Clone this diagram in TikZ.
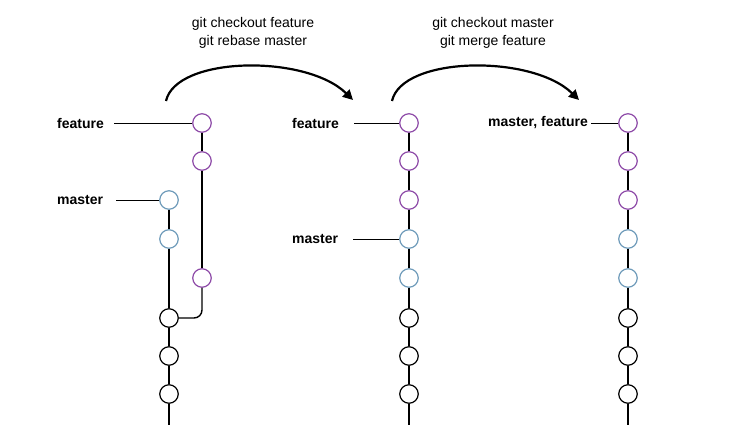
\documentclass[tikz,border=0pt]{standalone}
\usepackage{fontspec}
\setmainfont{Liberation Sans}
\usetikzlibrary{arrows.meta}
\definecolor{featc}{HTML}{8E4BA8}
\definecolor{mastc}{HTML}{6F9BBA}
\begin{document}
\begin{tikzpicture}[x=1pt,y=-1pt,
 commit/.style={circle,draw,fill=white,minimum size=18.5pt,inner sep=0pt,line width=1.2pt},
 feat/.style={commit,draw=featc},
 mast/.style={commit,draw=mastc},
 base/.style={commit,draw=black},
 lbl/.style={font=\fontsize{14}{16}\selectfont\bfseries,anchor=west,inner sep=0pt},
 cmd/.style={font=\fontsize{14}{18}\selectfont,align=center},
 trunk/.style={line width=1.4pt},
 ptr/.style={line width=0.8pt},
 move/.style={line width=2.2pt,-{Triangle[length=10pt,width=10pt]}}
]
\useasboundingbox (0,0) rectangle (740,444);
% ---------- column 1 ----------
\node[feat] (a1) at (202,123) {};
\node[feat] (a2) at (202,161) {};
\node[mast] (a3) at (169,200) {};
\node[mast] (a4) at (169,239) {};
\node[feat] (a5) at (202,278) {};
\node[base] (a6) at (169,318) {};
\node[base] (a7) at (169,356) {};
\node[base] (a8) at (169,394) {};
\coordinate (a9) at (169,425);
\draw[trunk] (a1) -- (a2) -- (a5);
\draw[trunk] (a3) -- (a4) -- (a6) -- (a7) -- (a8) -- (a9);
\draw[trunk,rounded corners=8pt] (a6.east) -| (a5.south);
\node[lbl] (fa) at (57,123) {feature};
\node[lbl] (ma) at (57,200) {master};
\draw[ptr] ([xshift=10pt]fa.east |- a1) -- (a1);
\draw[ptr] ([xshift=13pt]ma.east |- a3) -- (a3);
% ---------- column 2 ----------
\node[feat] (b1) at (409,123) {};
\node[feat] (b2) at (409,161) {};
\node[feat] (b3) at (409,200) {};
\node[mast] (b4) at (409,239) {};
\node[mast] (b5) at (409,278) {};
\node[base] (b6) at (409,318) {};
\node[base] (b7) at (409,356) {};
\node[base] (b8) at (409,394) {};
\coordinate (b9) at (409,425);
\draw[trunk] (b1) -- (b2) -- (b3) -- (b4) -- (b5) -- (b6) -- (b7) -- (b8) -- (b9);
\node[lbl] (fb) at (292,123) {feature};
\node[lbl] (mb) at (292,239) {master};
\draw[ptr] ([xshift=15pt]fb.east |- b1) -- (b1);
\draw[ptr] ([xshift=15pt]mb.east |- b4) -- (b4);
% ---------- column 3 ----------
\node[feat] (c1) at (628,123) {};
\node[feat] (c2) at (628,161) {};
\node[feat] (c3) at (628,200) {};
\node[mast] (c4) at (628,239) {};
\node[mast] (c5) at (628,278) {};
\node[base] (c6) at (628,318) {};
\node[base] (c7) at (628,356) {};
\node[base] (c8) at (628,394) {};
\coordinate (c9) at (628,425);
\draw[trunk] (c1) -- (c2) -- (c3) -- (c4) -- (c5) -- (c6) -- (c7) -- (c8) -- (c9);
\node[lbl] (mfc) at (488,123) {master, feature};
\draw[ptr] ([xshift=3pt]mfc.east |- c1) -- (c1);
% ---------- commands and arrows ----------
\node[cmd] (t1) at (253,33) {git checkout feature\\git rebase master};
\node[cmd] (t2) at (493,33) {git checkout master\\git merge feature};
\coordinate (s1) at (166,101);
\coordinate (e1) at (353,100);
\coordinate (s2) at (392,101);
\coordinate (e2) at (579,100);
\draw[move] (s1) .. controls (176,56) and (306,54) .. (e1);
\draw[move] (s2) .. controls (402,56) and (532,54) .. (e2);
\end{tikzpicture}
\end{document}
